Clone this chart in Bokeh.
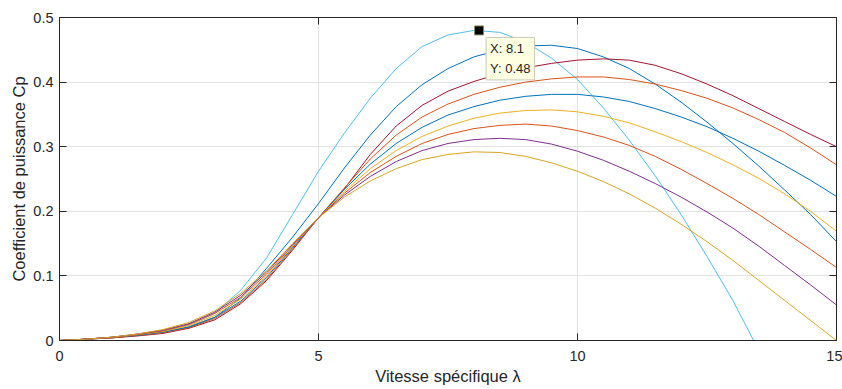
from bokeh.plotting import figure
from bokeh.models import Range1d, FixedTicker, LinearAxis, Label
from bokeh.embed import file_html
from bokeh.resources import INLINE

# ---------------- data ----------------
lam = [0, 0.5, 1, 1.5, 2, 2.5, 3, 3.5, 4, 4.5, 5, 5.5, 6, 6.5, 7, 7.5, 8,
       8.5, 9, 9.5, 10, 10.5, 11, 11.5, 12, 12.5, 13, 13.5, 14, 14.5, 15]

lam_lightblue = [0, 0.5, 1, 1.5, 2, 2.5, 3, 3.5, 4, 4.5, 5, 5.5, 6, 6.5, 7, 7.5, 8,
                 8.5, 9, 9.5, 10, 10.5, 11, 11.5, 12, 12.5, 13, 13.4]
cp_lightblue = [0, 0.002, 0.005, 0.009, 0.014, 0.024, 0.042, 0.078, 0.128, 0.195,
                0.262, 0.321, 0.375, 0.421, 0.455, 0.473, 0.480, 0.477, 0.462,
                0.437, 0.404, 0.360, 0.310, 0.255, 0.195, 0.130, 0.062, 0.0]

cp_blue1 = [0, 0.002, 0.004, 0.008, 0.013, 0.021, 0.036, 0.066, 0.112, 0.160,
            0.212, 0.267, 0.318, 0.362, 0.396, 0.421, 0.439, 0.450, 0.456, 0.457,
            0.452, 0.439, 0.421, 0.397, 0.369, 0.338, 0.305, 0.270, 0.233, 0.195, 0.153]

cp_darkred = [0, 0.002, 0.004, 0.007, 0.011, 0.019, 0.032, 0.057, 0.093, 0.140,
              0.190, 0.235, 0.288, 0.332, 0.364, 0.386, 0.401, 0.413, 0.422, 0.429,
              0.434, 0.436, 0.434, 0.426, 0.413, 0.397, 0.379, 0.359, 0.339, 0.319, 0.300]

cp_orange1 = [0, 0.002, 0.004, 0.008, 0.012, 0.020, 0.034, 0.059, 0.095, 0.142,
              0.190, 0.236, 0.281, 0.318, 0.346, 0.366, 0.381, 0.392, 0.400, 0.405,
              0.408, 0.408, 0.404, 0.397, 0.387, 0.375, 0.360, 0.342, 0.322, 0.298, 0.272]

cp_blue2 = [0, 0.002, 0.005, 0.008, 0.013, 0.021, 0.036, 0.061, 0.098, 0.144,
            0.190, 0.234, 0.273, 0.305, 0.330, 0.349, 0.362, 0.372, 0.378, 0.381,
            0.381, 0.377, 0.370, 0.359, 0.346, 0.331, 0.313, 0.293, 0.271, 0.248, 0.223]

cp_yellow = [0, 0.002, 0.005, 0.009, 0.014, 0.023, 0.039, 0.064, 0.100, 0.146,
             0.190, 0.231, 0.266, 0.294, 0.316, 0.332, 0.344, 0.352, 0.356, 0.357,
             0.354, 0.347, 0.337, 0.323, 0.308, 0.291, 0.272, 0.251, 0.227, 0.200, 0.169]

cp_orange2 = [0, 0.002, 0.005, 0.009, 0.015, 0.025, 0.042, 0.067, 0.103, 0.147,
              0.190, 0.228, 0.260, 0.285, 0.305, 0.319, 0.328, 0.333, 0.335, 0.332,
              0.325, 0.315, 0.302, 0.285, 0.265, 0.243, 0.220, 0.195, 0.168, 0.141, 0.113]

cp_purple = [0, 0.002, 0.005, 0.010, 0.016, 0.026, 0.044, 0.070, 0.106, 0.149,
             0.190, 0.225, 0.254, 0.277, 0.294, 0.305, 0.311, 0.313, 0.311, 0.304,
             0.293, 0.279, 0.262, 0.243, 0.222, 0.199, 0.174, 0.146, 0.116, 0.086, 0.055]

cp_gold = [0, 0.002, 0.005, 0.010, 0.017, 0.028, 0.046, 0.073, 0.108, 0.150,
           0.190, 0.222, 0.247, 0.266, 0.280, 0.288, 0.292, 0.291, 0.285, 0.275,
           0.262, 0.246, 0.227, 0.205, 0.180, 0.153, 0.124, 0.093, 0.062, 0.031, 0.0]

x_ticks = [0, 5, 10, 15]
x_tick_labels = ["0", "5", "10", "15"]
y_ticks = [0, 0.1, 0.2, 0.3, 0.4, 0.5]
y_tick_labels = ["0", "0.1", "0.2", "0.3", "0.4", "0.5"]

tip_x = 8.1
tip_y = 0.48

x_label = "Vitesse spécifique λ"
y_label = "Coefficient de puissance Cp"

# ---------------- styles ----------------
FONT = "Liberation Sans"
TXT = "#262626"
GRID = "#E2E2E2"

series = [
    (lam_lightblue, cp_lightblue, "#4DBEEE"),
    (lam, cp_blue1, "#0072BD"),
    (lam, cp_darkred, "#A2142F"),
    (lam, cp_orange1, "#D95319"),
    (lam, cp_blue2, "#0072BD"),
    (lam, cp_yellow, "#EDB120"),
    (lam, cp_orange2, "#D95319"),
    (lam, cp_purple, "#7E2F8E"),
    (lam, cp_gold, "#D6A520"),
]

p = figure(width=842, height=389, output_backend="svg", toolbar_location=None,
           x_range=Range1d(x_ticks[0], x_ticks[-1]),
           y_range=Range1d(y_ticks[0], y_ticks[-1]),
           min_border_left=59, min_border_right=6,
           min_border_top=17, min_border_bottom=49)
p.background_fill_color = "white"
p.border_fill_color = "white"
p.outline_line_color = None

# grid
p.xgrid.ticker = FixedTicker(ticks=x_ticks)
p.ygrid.ticker = FixedTicker(ticks=y_ticks)
for g in (p.xgrid, p.ygrid):
    g.grid_line_color = GRID
    g.grid_line_width = 1

def base_style(ax, ticks):
    ax.ticker = FixedTicker(ticks=ticks)
    ax.axis_line_color = TXT
    ax.axis_line_width = 1
    ax.major_tick_line_color = TXT
    ax.major_tick_line_width = 1
    ax.major_tick_in = 7
    ax.major_tick_out = 0
    ax.minor_tick_line_color = None
    ax.major_label_text_font = FONT
    ax.major_label_text_color = TXT
    ax.axis_label_text_font = FONT
    ax.axis_label_text_color = TXT
    ax.axis_label_text_font_style = "normal"

xa = p.xaxis[0]
base_style(xa, x_ticks)
xa.major_label_overrides = dict(zip(x_ticks, x_tick_labels))
xa.major_label_text_font_size = "14.5px"
xa.major_label_standoff = 10
xa.axis_label = x_label
xa.axis_label_text_font_size = "16.5px"
xa.axis_label_standoff = 3

ya = p.yaxis[0]
base_style(ya, y_ticks)
ya.major_label_overrides = dict(zip(y_ticks, y_tick_labels))
ya.major_label_text_font_size = "14.5px"
ya.major_label_standoff = 6
ya.axis_label = y_label
ya.axis_label_text_font_size = "16.5px"
ya.axis_label_standoff = 2

top = LinearAxis()
base_style(top, x_ticks)
top.major_label_text_font_size = "0px"
top.major_label_standoff = 0
top.major_label_overrides = {t: "" for t in x_ticks}
p.add_layout(top, "above")

right = LinearAxis()
base_style(right, y_ticks)
right.major_label_text_font_size = "0px"
right.major_label_standoff = 0
right.major_label_overrides = {t: "" for t in y_ticks}
p.add_layout(right, "right")

for xs, ys, c in series:
    p.line(xs, ys, line_color=c, line_width=1)

# data tip
p.scatter([tip_x], [tip_y], marker="square", size=9,
          fill_color="black", line_color="#8A8A6A", line_width=1)
tip = Label(x=tip_x, y=tip_y, x_offset=7, y_offset=-7,
            text=f"X: {tip_x:g}\nY: {tip_y:g}",
            text_font=FONT, text_font_size="13px", text_color=TXT,
            text_align="left", text_baseline="top", text_line_height=1.3,
            background_fill_color="#FFFFE1", border_line_color="#C9C9B5",
            border_line_width=1, padding=4)
p.add_layout(tip)

open("out.html", "w").write(file_html(p, INLINE))
